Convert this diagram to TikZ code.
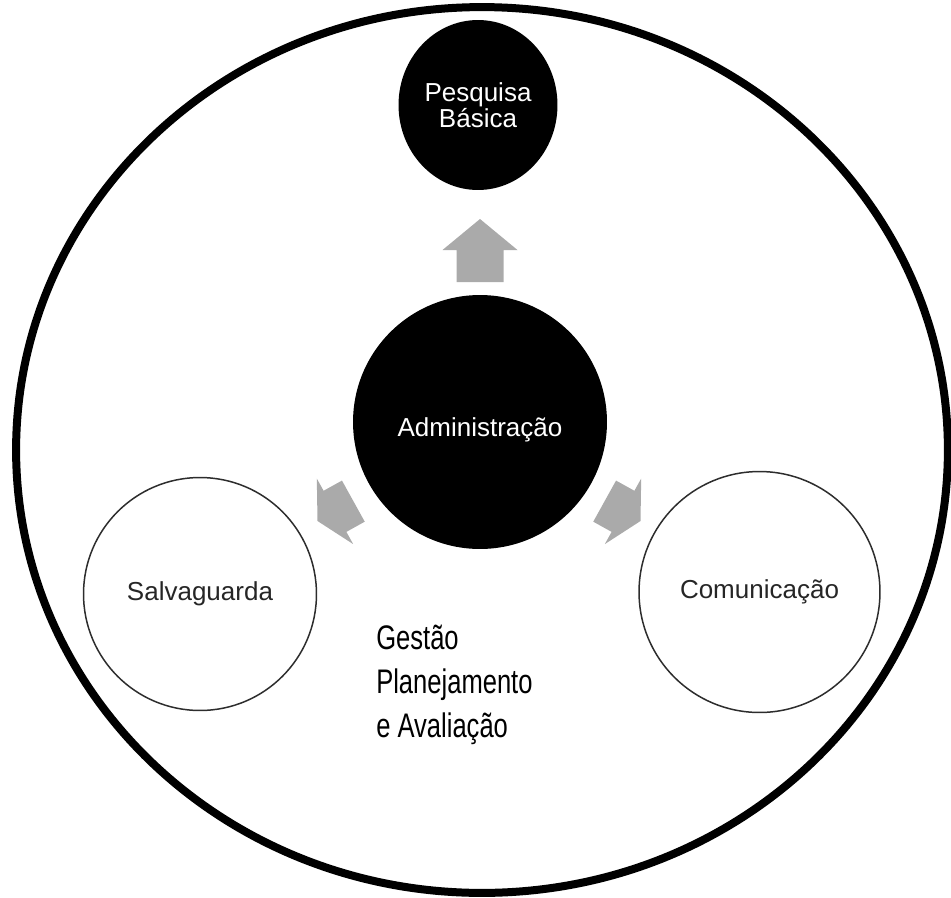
\documentclass[tikz,border=0pt]{standalone}
\usepackage{fontspec}
\setmainfont{Liberation Sans}
\usetikzlibrary{shapes.geometric}

\definecolor{arrowgray}{RGB}{170,170,170}
\definecolor{rimgray}{RGB}{45,45,45}

\tikzset{
  labelfont/.style={font=\fontsize{14.8}{15}\selectfont},
  blackdisc/.style={circle,fill=black,text=white,inner sep=0pt,align=center,labelfont},
  whitedisc/.style={circle,draw=rimgray,fill=white,line width=0.85pt,inner sep=0pt,text=black!85,labelfont},
  % block arrow pointing along +x, tip at the origin: head length / shaft length
  pics/blockarrow/.style args={#1/#2}{code={
    \fill[arrowgray] (0,0) -- (-#1,37.5) -- (-#1,23.5) -- (-#1-#2,23.5) -- (-#1-#2,-23.5) -- (-#1,-23.5) -- (-#1,-37.5) -- cycle;
  }}
}

\begin{document}
\begin{tikzpicture}[x=0.02cm,y=-0.02cm]
\useasboundingbox (0,0) rectangle (951,897);

% outer ring
\node[ellipse,draw=black,line width=0.16cm,minimum width=18.64cm,minimum height=17.72cm,inner sep=0pt] (frame) at (482,450) {};

\node[blackdisc,ellipse,minimum width=3.18cm,minimum height=3.4cm] (pesq) at (478,105) {Pesquisa\\Básica};
\node[blackdisc,minimum size=5.08cm,text height=17pt,text depth=0pt] (adm) at (480,422) {Administração};
\node[whitedisc,minimum size=4.66cm] (salv) at (200,594) {Salvaguarda};
\node[whitedisc,minimum size=4.82cm] (comun) at (759.5,592) {Comunicação};

% arrows out of the centre
\pic[rotate=90] at (480,219) {blockarrow=31/32};
\pic[rotate=209] at (317.5,521) {blockarrow=20/21};
\pic[rotate=331] at (640.5,521) {blockarrow=20/21};

\node[anchor=north west,inner sep=0pt,align=left,xscale=0.75,font=\fontsize{19.4}{25}\selectfont] (gpa) at (376,625) {Gestão\\Planejamento\\e Avaliação};
\end{tikzpicture}
\end{document}
